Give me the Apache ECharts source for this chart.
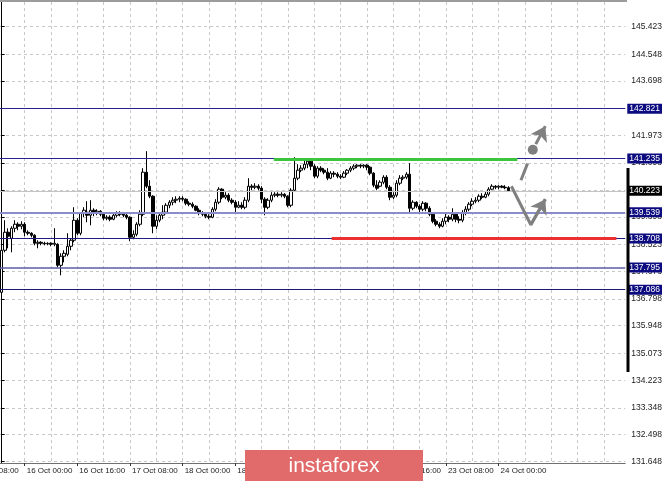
<!DOCTYPE html>
<html><head><meta charset="utf-8">
<script src="https://cdn.jsdelivr.net/npm/echarts@6/dist/echarts.min.js"></script>
<style>html,body{margin:0;padding:0;background:#fff}#c{width:665px;height:481px}</style>
</head><body><div id="c"></div>
<script>
// ---- data ----
const tradingDays = ['15 Oct','16 Oct','17 Oct','18 Oct','19 Oct','22 Oct','23 Oct','24 Oct','25 Oct'];
const firstHour = 17;
const slotCount = 190;
const labelStep = 16;
const gridStep = 8;
const firstLabelSlot = 7;
// [open, close, low, high]
const candles = [
[137.005,138.337,136.878,138.400],[138.337,138.908,138.273,139.288],[138.908,138.781,138.400,139.034],[138.717,139.034,138.273,139.098],[139.034,139.161,138.908,139.288],
[139.161,139.098,138.971,139.225],[139.098,139.161,139.003,139.256],[139.161,138.908,138.781,139.225],[138.908,138.876,138.812,138.971],[138.876,138.812,138.749,138.908],
[138.812,138.559,138.495,138.844],[138.559,138.590,138.400,138.654],[138.590,138.559,138.495,138.622],[138.559,138.543,138.495,138.606],[138.543,138.559,138.495,138.590],
[138.559,138.527,138.464,138.590],[138.527,138.559,138.464,139.034],[138.527,137.861,137.798,138.559],[137.861,138.147,137.544,138.242],[138.147,138.242,137.956,138.337],
[138.210,138.464,138.147,138.876],[138.464,138.654,138.337,138.717],[138.654,139.288,138.590,139.700],[139.288,138.876,138.812,139.351],[138.876,139.510,138.812,139.542],
[139.510,139.605,139.383,139.700],[139.542,139.446,139.225,139.890],[139.446,139.605,139.129,139.922],[139.605,139.510,139.415,139.668],[139.510,139.573,139.446,139.637],
[139.573,139.478,139.415,139.605],[139.478,139.351,139.288,139.542],[139.351,139.383,139.288,139.446],[139.383,139.320,139.256,139.446],[139.320,139.446,139.288,139.510],
[139.446,139.510,139.383,139.573],[139.510,139.478,139.415,139.573],[139.478,139.446,139.383,139.542],[139.446,139.383,139.320,139.510],[139.383,138.749,138.622,139.415],
[138.749,138.844,138.686,138.971],[138.844,139.161,138.781,139.225],[139.161,139.478,139.098,139.605],[139.478,140.810,139.415,140.937],[140.810,140.366,140.302,141.476],
[140.366,140.049,139.985,140.556],[140.049,139.098,138.876,140.081],[139.098,139.288,139.003,139.446],[139.288,139.446,139.225,139.542],[139.446,139.542,139.320,139.763],
[139.542,139.763,139.478,139.827],[139.763,139.859,139.668,139.922],[139.859,139.922,139.763,140.017],[139.922,139.954,139.827,140.049],[139.954,139.985,139.859,140.049],
[139.985,139.954,139.890,140.049],[139.954,139.827,139.763,139.985],[139.827,139.795,139.732,139.890],[139.795,139.732,139.668,139.859],[139.732,139.605,139.573,139.763],
[139.605,139.510,139.446,139.668],[139.510,139.478,139.415,139.573],[139.478,139.415,139.351,139.542],[139.415,139.383,139.320,139.478],[139.383,139.637,139.351,139.700],
[139.637,139.859,139.573,139.954],[139.859,140.271,139.795,140.334],[140.271,140.017,139.954,140.302],[140.017,140.081,139.954,140.176],[140.081,139.922,139.859,140.144],
[139.922,139.859,139.795,139.985],[139.859,139.700,139.510,139.922],[139.700,139.763,139.668,139.890],[139.763,139.700,139.637,139.859],[139.700,139.922,139.637,140.017],
[139.922,140.366,139.859,140.620],[140.366,140.334,140.239,140.429],[140.334,140.366,140.271,140.461],[140.366,140.302,140.239,140.429],[140.302,139.954,139.827,140.366],
[139.954,139.700,139.446,140.017],[139.700,139.922,139.637,139.985],[139.922,140.081,139.859,140.176],[140.081,140.112,140.017,140.176],[140.112,140.081,140.017,140.176],
[140.081,140.112,140.017,140.176],[140.112,140.049,139.985,140.144],[140.049,139.763,139.700,140.081],[139.763,140.239,139.700,140.302],[140.239,140.620,140.207,141.285],
[140.620,140.873,140.556,141.063],[140.873,140.937,140.810,141.032],[140.937,141.063,140.873,141.190],[141.063,141.159,140.937,141.254],[141.159,141.000,140.873,141.190],
[141.000,140.683,140.620,141.063],[140.683,140.937,140.620,141.000],[140.937,140.873,140.810,141.000],[140.873,140.810,140.746,140.937],[140.810,140.620,140.556,140.937],
[140.620,140.778,140.588,140.842],[140.778,140.746,140.651,140.842],[140.746,140.683,140.620,140.810],[140.683,140.651,140.588,140.746],[140.651,140.778,140.620,140.842],
[140.778,140.873,140.715,140.905],[140.873,140.937,140.810,141.000],[140.937,141.000,140.873,141.063],[141.000,141.032,140.937,141.063],[141.032,141.000,140.937,141.063],
[141.000,141.032,140.937,141.063],[141.032,140.968,140.873,141.063],[140.968,140.778,140.715,141.000],[140.778,140.398,140.334,140.810],[140.398,140.302,140.239,140.556],
[140.366,140.493,140.334,140.556],[140.493,140.651,140.429,140.715],[140.651,140.334,140.271,140.715],[140.334,140.017,139.922,140.398],[140.017,140.081,139.954,140.176],
[140.081,140.461,140.017,140.556],[140.461,140.620,140.398,140.715],[140.620,140.651,140.556,140.715],[140.651,140.746,140.588,140.810],[140.746,139.668,139.510,141.095],
[139.668,139.859,139.605,139.922],[139.859,139.732,139.668,139.890],[139.732,139.637,139.510,139.795],[139.637,139.827,139.573,139.890],[139.827,139.668,139.573,139.859],
[139.668,139.478,139.415,139.732],[139.478,139.256,139.193,139.542],[139.256,139.161,139.098,139.320],[139.161,139.098,139.034,139.225],[139.098,139.256,139.066,139.351],
[139.256,139.383,139.161,139.510],[139.383,139.320,139.225,139.446],[139.320,139.478,139.256,139.668],[139.478,139.320,139.225,139.542],[139.320,139.288,139.193,139.415],
[139.288,139.510,139.225,139.605],[139.510,139.637,139.446,139.732],[139.637,139.795,139.573,139.859],[139.795,139.890,139.732,139.985],[139.890,139.922,139.827,140.017],
[139.922,140.049,139.859,140.112],[140.049,140.017,139.954,140.144],[140.017,140.112,139.985,140.207],[140.112,140.271,140.049,140.334],[140.271,140.366,140.239,140.429],
[140.366,140.334,140.271,140.398],[140.334,140.366,140.271,140.398],[140.366,140.334,140.302,140.398],[140.334,140.318,140.271,140.398],[140.318,140.223,140.207,140.366]
];
const yTicks = [131.648,132.498,133.348,134.223,135.073,135.948,136.798,137.673,138.523,139.398,140.248,141.098,141.973,142.823,143.698,144.548,145.423];
const levelValues = [142.821, 141.235, 139.539, 138.708, 137.795, 137.086];
const bidPrice = 140.223;
const greenSegment = [[82.7, 141.235], [156.7, 141.235]];
const redSegment = [[100.3, 138.708], [186.8, 138.708]];
const arrowDown = [[154.9, 140.366], [160.8, 139.145], [165.2, 139.954]];
const arrowUpDash = [[157.8, 140.556], [159.8, 141.086]];
const arrowUpDot = [161.4, 141.523];
const arrowUpHead = [[162.3, 141.698], [165.2, 142.268]];
const prevLabel = '15 Oct 08:00';

// ---- build ----
const FONT = '"Liberation Sans", Arial, sans-serif';
const slots = [];
tradingDays.forEach((d, k) => {
  for (let h = 0; h < 24; h++) {
    if (k === 0 && h < firstHour) continue;
    slots.push(d + ' ' + String(h).padStart(2, '0') + ':00');
  }
});
slots.length = slotCount;

const levelStyles = [
  {color:'#24248a', width:1},
  {color:'#24248a', width:1},
  {color:'#8c8cca', width:2},
  {color:'#1e1e7a', width:1},
  {color:'#5c5ca8', width:1.5},
  {color:'#1a1a70', width:1}
];
const lblBase = {show:true, position:'end', distance:2, color:'#fff', fontFamily:FONT, fontSize:8.5, lineHeight:9, padding:[1,2,0,2]};

const levelLines = levelValues.map((v, k) => ({
  yAxis: v,
  lineStyle: {color: levelStyles[k].color, width: levelStyles[k].width, type: 'solid'},
  label: Object.assign({}, lblBase, {formatter: v.toFixed(3), backgroundColor: '#0c0c80'})
}));
levelLines.push({
  yAxis: bidPrice,
  lineStyle: {color:'#c4c4c4', width:1, type:'solid'},
  label: Object.assign({}, lblBase, {formatter: bidPrice.toFixed(3), backgroundColor: '#000'})
});

const labelSlot = i => i >= 0 && (i - firstLabelSlot) % labelStep === 0 && i < candles.length;
const gridSlot = i => (i - firstLabelSlot) % gridStep === 0;

const gray = '#808080';
function seg(a, b, s, arrow) {
  return [
    {coord: a, symbol: 'none', lineStyle: s},
    {coord: b, symbol: arrow ? 'arrow' : 'none', symbolSize: arrow ? 14 : 0, lineStyle: s}
  ];
}
const thick = {color: gray, width: 3, type: 'solid'};

const chart = echarts.init(document.getElementById('c'));
chart.setOption({
  animation: false,
  backgroundColor: '#fff',
  grid: {left: 0, right: 39, top: 2, bottom: 18, show: false},
  xAxis: [{
    type: 'category', data: slots, boundaryGap: true,
    axisLine: {show: true, lineStyle: {color: '#707070', width: 1}},
    axisTick: {show: true, interval: labelSlot, alignWithLabel: true, length: 3, lineStyle: {color: '#333'}},
    axisLabel: {interval: labelSlot, showMinLabel: true, showMaxLabel: true, hideOverlap: false, align: 'left', margin: 4, padding: [0,0,0,2], color: '#222', fontFamily: FONT, fontSize: 8},
    splitLine: {show: true, interval: gridSlot, alignWithLabel: true, lineStyle: {color: '#c8c8c8', type: [3,3], width: 1}}
  }, {
    type: 'value', min: -0.5, max: slotCount - 0.5, show: false
  }],
  yAxis: {
    type: 'value', position: 'right', min: 131.6, max: 146.2, scale: true,
    axisLine: {show: true, lineStyle: {color: '#000', width: 1}},
    axisTick: {show: true, customValues: yTicks, length: 3, lineStyle: {color: '#000'}},
    axisLabel: {customValues: yTicks, formatter: v => v.toFixed(3), margin: 6, color: '#222', fontFamily: FONT, fontSize: 8.5},
    splitLine: {show: true, lineStyle: {color: '#c8c8c8', type: [3,3], width: 1}}
  },
  series: [{
    type: 'candlestick',
    xAxisIndex: 0,
    data: candles,
    barWidth: 3,
    itemStyle: {color: '#ffffff', color0: '#000000', borderColor: '#000000', borderColor0: '#000000', borderWidth: 1},
    markLine: {silent: true, symbol: ['none','none'], animation: false, data: levelLines}
  }, {
    type: 'line',
    xAxisIndex: 1,
    data: arrowDown,
    showSymbol: false,
    lineStyle: {color: gray, width: 3},
    z: 5,
    markLine: {
      silent: true, symbol: ['none','none'], animation: false, label: {show: false},
      data: [
        seg(greenSegment[0], greenSegment[1], {color:'#3cc43c', width:3, type:'solid'}, false),
        seg(redSegment[0], redSegment[1], {color:'#ec3030', width:3, type:'solid'}, false),
        seg(arrowDown[1], arrowDown[2], thick, true),
        seg(arrowUpDash[0], arrowUpDash[1], thick, false),
        seg(arrowUpHead[0], arrowUpHead[1], thick, true)
      ]
    },
    markPoint: {
      silent: true, animation: false, label: {show: false},
      data: [{coord: arrowUpDot, symbol: 'circle', symbolSize: 10, itemStyle: {color: gray}}]
    }
  }],
  graphic: [
    {type: 'rect', shape: {x: 0, y: 0, width: 627, height: 2}, style: {fill: '#9c9c9c'}, z: 100},
    {type: 'rect', shape: {x: 626.5, y: 168, width: 3, height: 204}, style: {fill: '#000'}, z: 100},
    {type: 'text', x: -27, y: 467, style: {text: prevLabel, fill: '#222', font: '8px ' + FONT}, z: 100},
    {type: 'rect', shape: {x: 245, y: 450, width: 178, height: 40}, style: {fill: '#e16a6a'}, z: 100},
    {type: 'text', x: 334, y: 466, style: {text: 'instaforex', fill: '#fff', font: '21px "Liberation Sans", sans-serif', textAlign: 'center', textVerticalAlign: 'middle'}, z: 101}
  ]
});
</script>
</body></html>
